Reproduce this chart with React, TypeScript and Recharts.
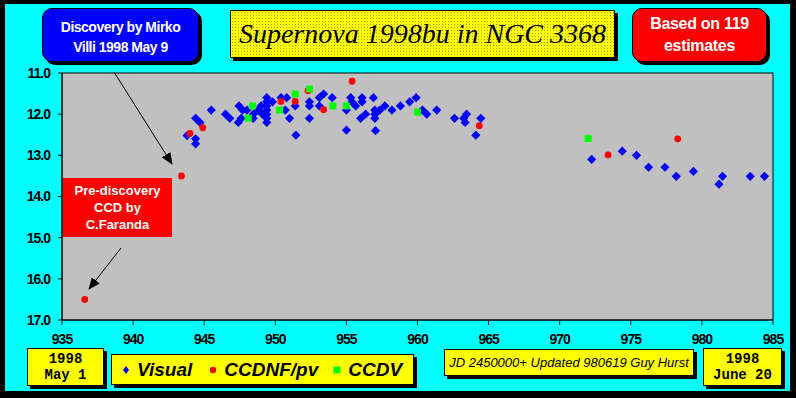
import React from 'react';
import {
  ScatterChart,
  Scatter,
  XAxis,
  YAxis,
  ReferenceArea,
} from 'recharts';

// Julian Day (2450000+) vs magnitude
const visual = [
  { jd: 943.8, mag: 12.52 }, { jd: 944.4, mag: 12.1 }, { jd: 944.4, mag: 12.6 },
  { jd: 944.4, mag: 12.72 }, { jd: 944.7, mag: 12.2 }, { jd: 945.5, mag: 11.9 },
  { jd: 946.5, mag: 12.0 }, { jd: 946.8, mag: 12.1 }, { jd: 947.45, mag: 11.8 },
  { jd: 947.7, mag: 11.9 }, { jd: 947.4, mag: 12.2 }, { jd: 947.6, mag: 12.1 },
  { jd: 948.0, mag: 11.9 }, { jd: 948.45, mag: 12.0 }, { jd: 948.45, mag: 12.1 },
  { jd: 948.8, mag: 11.9 }, { jd: 949.0, mag: 11.8 }, { jd: 949.1, mag: 12.0 },
  { jd: 949.4, mag: 11.6 }, { jd: 949.4, mag: 11.7 }, { jd: 949.4, mag: 11.8 },
  { jd: 949.4, mag: 11.9 }, { jd: 949.4, mag: 12.0 }, { jd: 949.4, mag: 12.1 },
  { jd: 949.4, mag: 12.2 }, { jd: 949.8, mag: 11.7 }, { jd: 950.4, mag: 11.6 },
  { jd: 950.7, mag: 11.9 }, { jd: 950.8, mag: 11.6 }, { jd: 951.0, mag: 12.1 },
  { jd: 951.4, mag: 11.8 }, { jd: 951.45, mag: 12.51 }, { jd: 952.4, mag: 11.7 },
  { jd: 952.4, mag: 11.8 }, { jd: 952.4, mag: 12.1 }, { jd: 953.1, mag: 11.6 },
  { jd: 953.4, mag: 11.51 }, { jd: 953.1, mag: 11.8 }, { jd: 954.0, mag: 11.6 },
  { jd: 955.3, mag: 11.6 }, { jd: 955.0, mag: 11.9 }, { jd: 955.0, mag: 12.39 },
  { jd: 955.4, mag: 11.7 }, { jd: 955.65, mag: 11.8 }, { jd: 956.1, mag: 11.6 },
  { jd: 956.1, mag: 11.7 }, { jd: 956.35, mag: 12.0 }, { jd: 956.0, mag: 12.1 },
  { jd: 956.9, mag: 11.6 }, { jd: 957.0, mag: 11.9 }, { jd: 957.0, mag: 12.0 },
  { jd: 957.0, mag: 12.1 }, { jd: 957.05, mag: 12.4 }, { jd: 957.35, mag: 11.9 },
  { jd: 957.7, mag: 11.8 }, { jd: 958.2, mag: 11.9 }, { jd: 958.8, mag: 11.8 },
  { jd: 959.45, mag: 11.7 }, { jd: 959.9, mag: 11.6 }, { jd: 960.35, mag: 11.9 },
  { jd: 960.65, mag: 12.0 }, { jd: 961.35, mag: 11.9 }, { jd: 962.6, mag: 12.1 },
  { jd: 963.25, mag: 12.1 }, { jd: 963.45, mag: 12.0 }, { jd: 963.35, mag: 12.2 },
  { jd: 964.1, mag: 12.51 }, { jd: 964.45, mag: 12.1 }, { jd: 972.25, mag: 13.1 },
  { jd: 974.4, mag: 12.9 }, { jd: 975.4, mag: 13.0 }, { jd: 976.25, mag: 13.29 },
  { jd: 977.4, mag: 13.29 }, { jd: 978.2, mag: 13.51 }, { jd: 979.4, mag: 13.39 },
  { jd: 981.45, mag: 13.51 }, { jd: 981.2, mag: 13.7 }, { jd: 983.4, mag: 13.51 },
  { jd: 984.4, mag: 13.51 },
];

const ccdnf = [
  { jd: 936.6, mag: 16.5 }, { jd: 943.4, mag: 13.5 }, { jd: 944.0, mag: 12.47 },
  { jd: 944.9, mag: 12.33 }, { jd: 950.4, mag: 11.69 }, { jd: 951.4, mag: 11.69 },
  { jd: 952.3, mag: 11.43 }, { jd: 953.4, mag: 11.89 }, { jd: 955.4, mag: 11.2 },
  { jd: 964.35, mag: 12.28 }, { jd: 973.4, mag: 12.99 }, { jd: 978.3, mag: 12.6 },
];

const ccdv = [
  { jd: 948.1, mag: 12.1 }, { jd: 948.4, mag: 11.8 }, { jd: 950.3, mag: 11.9 },
  { jd: 951.4, mag: 11.51 }, { jd: 952.4, mag: 11.39 }, { jd: 954.05, mag: 11.8 },
  { jd: 955.0, mag: 11.8 }, { jd: 960.0, mag: 11.95 }, { jd: 972.0, mag: 12.59 },
];

const xTicks = [935, 940, 945, 950, 955, 960, 965, 970, 975, 980, 985];
const yTicks = [11, 12, 13, 14, 15, 16, 17];

const sans = '"Liberation Sans", Arial, sans-serif';
const mono = '"Liberation Mono", "Courier New", monospace';

const tickStyle = {
  fill: '#000',
  fontSize: 14,
  fontWeight: 'bold',
  fontFamily: sans,
  letterSpacing: -1,
};

const Diamond = (p: any) => {
  const { cx, cy } = p;
  const r = 4.6;
  return (
    <polygon
      points={`${cx},${cy - r} ${cx + r},${cy} ${cx},${cy + r} ${cx - r},${cy}`}
      fill="#0000ff"
    />
  );
};

const Dot = (p: any) => <circle cx={p.cx} cy={p.cy} r={3.4} fill="#ff0000" />;

const Square = (p: any) => (
  <rect x={p.cx - 3.5} y={p.cy - 3.5} width={7} height={7} fill="#00ff00" />
);

const box = (extra: React.CSSProperties): React.CSSProperties => ({
  position: 'absolute',
  boxSizing: 'border-box',
  display: 'flex',
  flexDirection: 'column',
  alignItems: 'center',
  justifyContent: 'center',
  textAlign: 'center',
  whiteSpace: 'nowrap',
  ...extra,
});

export default function App() {
  return (
    <div
      style={{
        position: 'absolute',
        left: 0,
        top: 0,
        width: 796,
        height: 398,
        background: '#000',
      }}
    >
      <div
        style={{
          position: 'absolute',
          left: 5,
          top: 4,
          width: 785,
          height: 387,
          background: '#00ffff',
        }}
      />
      <div style={{ position: 'absolute', left: 0, top: 0 }}>
        <ScatterChart
          width={796}
          height={398}
          margin={{ top: 73, right: 23, bottom: 48, left: 0 }}
        >
          <XAxis
            type="number"
            dataKey="jd"
            domain={[935, 985]}
            ticks={xTicks}
            height={30}
            allowDataOverflow
            tickSize={5}
            tickMargin={9}
            stroke="#000"
            tick={tickStyle}
          />
          <YAxis
            type="number"
            dataKey="mag"
            domain={[11, 17]}
            reversed
            ticks={yTicks}
            width={62}
            allowDataOverflow
            tickSize={4}
            tickMargin={8}
            stroke="#000"
            tickFormatter={(v: number) => v.toFixed(1)}
            tick={tickStyle}
          />
          <ReferenceArea
            x1={935}
            x2={985}
            y1={11}
            y2={17}
            fill="#c0c0c0"
            fillOpacity={1}
            stroke="#000"
            strokeWidth={1}
          />
          <Scatter name="Visual" data={visual} shape={Diamond} isAnimationActive={false} />
          <Scatter name="CCDNF/pv" data={ccdnf} shape={Dot} isAnimationActive={false} />
          <Scatter name="CCDV" data={ccdv} shape={Square} isAnimationActive={false} />
        </ScatterChart>
      </div>

      {/* annotation arrows */}
      <svg
        width={796}
        height={398}
        style={{ position: 'absolute', left: 0, top: 0, pointerEvents: 'none' }}
      >
        <defs>
          <marker id="ah" markerWidth="12" markerHeight="10" refX="11" refY="5" orient="auto" markerUnits="userSpaceOnUse">
            <polygon points="0,0 12,5 0,10" fill="#000" />
          </marker>
        </defs>
        <line x1={114} y1={72} x2={172} y2={164} stroke="#000" strokeWidth={1} markerEnd="url(#ah)" />
        <line x1={121} y1={248} x2={89} y2={289} stroke="#000" strokeWidth={1} markerEnd="url(#ah)" />
      </svg>

      {/* header boxes */}
      <div
        style={box({
          left: 42, top: 8, width: 157, height: 54, background: '#0000ff',
          border: '1px solid #000', borderRadius: 10, boxShadow: '3px 3px 0 #000',
          paddingTop: 3,
          color: '#fff', fontFamily: sans, fontWeight: 'bold', fontSize: 14, lineHeight: '20px',
          letterSpacing: -0.5,
        })}
      >
        <div>Discovery by Mirko</div>
        <div>Villi 1998 May 9</div>
      </div>
      <div
        style={box({
          left: 230, top: 10, width: 385, height: 48, background: '#ffff00',
          backgroundImage: 'radial-gradient(rgba(0,0,0,0.35) 0.6px, transparent 0.9px)',
          backgroundSize: '3px 3px',
          border: '1px solid #000', boxShadow: '3px 3px 0 #000',
          color: '#000', fontFamily: '"Liberation Serif", "Times New Roman", serif',
          fontStyle: 'italic', fontSize: 28,
        })}
      >
        Supernova 1998bu in NGC 3368
      </div>
      <div
        style={box({
          left: 632, top: 8, width: 135, height: 54, background: '#ff0000',
          border: '1px solid #000', borderRadius: 10, boxShadow: '3px 3px 0 #000',
          color: '#fff', fontFamily: sans, fontWeight: 'bold', fontSize: 16, lineHeight: '22px',
          letterSpacing: -0.3,
        })}
      >
        <div>Based on 119</div>
        <div>estimates</div>
      </div>

      {/* pre-discovery label */}
      <div
        style={box({
          left: 63, top: 178, width: 109, height: 59, background: '#ff0000',
          color: '#fff', fontFamily: sans, fontWeight: 'bold', fontSize: 13, lineHeight: '17px',
        })}
      >
        <div>Pre-discovery</div>
        <div>CCD by</div>
        <div>C.Faranda</div>
      </div>

      {/* footer boxes */}
      <div
        style={box({
          left: 27, top: 348, width: 77, height: 38, background: '#ffff00',
          border: '1px solid #000', boxShadow: '3px 3px 0 #000',
          fontFamily: mono, fontWeight: 'bold', fontSize: 14, lineHeight: '16px',
        })}
      >
        <div>1998</div>
        <div>May 1</div>
      </div>
      <div
        style={box({
          left: 111, top: 354, width: 303, height: 31, background: '#ffff00',
          border: '1px solid #000', boxShadow: '3px 3px 0 #000',
          flexDirection: 'row', justifyContent: 'flex-start', paddingLeft: 9,
          fontFamily: sans, fontWeight: 'bold', fontStyle: 'italic', fontSize: 19,
        })}
      >
        <svg width={10} height={10} style={{ marginRight: 6 }}>
          <polygon points="5,1 8,5 5,9 2,5" fill="#0000ff" />
        </svg>
        <span style={{ marginRight: 16 }}>Visual</span>
        <svg width={10} height={10} style={{ marginRight: 6 }}>
          <circle cx={5} cy={5} r={3.2} fill="#ff0000" />
        </svg>
        <span style={{ marginRight: 14 }}>CCDNF/pv</span>
        <svg width={10} height={10} style={{ marginRight: 6 }}>
          <rect x={1.5} y={1.5} width={7} height={7} fill="#00ff00" />
        </svg>
        <span>CCDV</span>
      </div>
      <div
        style={box({
          left: 444, top: 349, width: 250, height: 27, background: '#ffff00',
          border: '1px solid #000', boxShadow: '3px 3px 0 #000',
          fontFamily: sans, fontStyle: 'italic', fontSize: 13,
        })}
      >
        JD 2450000+ Updated 980619 Guy Hurst
      </div>
      <div
        style={box({
          left: 703, top: 348, width: 79, height: 38, background: '#ffff00',
          border: '1px solid #000', boxShadow: '3px 3px 0 #000',
          fontFamily: mono, fontWeight: 'bold', fontSize: 14, lineHeight: '16px',
        })}
      >
        <div>1998</div>
        <div>June 20</div>
      </div>
    </div>
  );
}
